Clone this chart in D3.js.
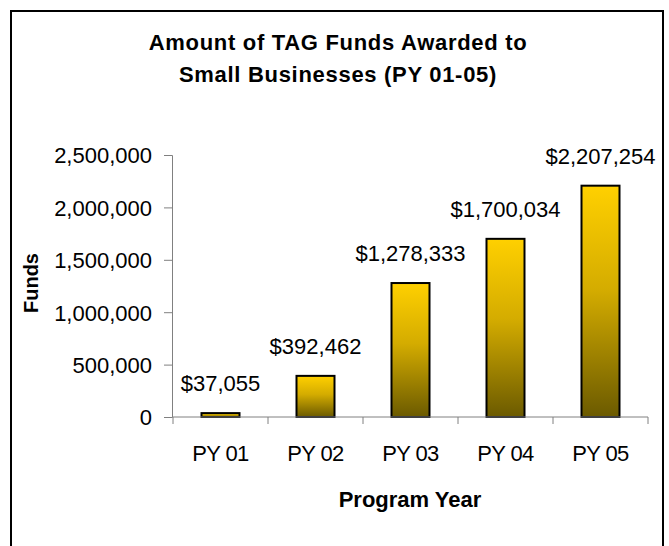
<!DOCTYPE html>
<html>
<head>
<meta charset="utf-8">
<script src="https://cdn.jsdelivr.net/npm/d3@7"></script>
<style>
  body { margin: 0; background: #fff; }
  svg { display: block; font-family: Arial, "Liberation Sans", sans-serif; }
</style>
</head>
<body>
<svg id="chart" width="669" height="546"></svg>
<script>
// chart data
const years = ['PY 01', 'PY 02', 'PY 03', 'PY 04', 'PY 05'];
const funds = [37055, 392462, 1278333, 1700034, 2207254];
const yTicks = [0, 500000, 1000000, 1500000, 2000000, 2500000];
const titleLines = ['Amount of TAG Funds Awarded to', 'Small Businesses (PY 01-05)'];

const svg = d3.select('#chart');

// outer frame
svg.append('rect')
    .attr('x', 11).attr('y', 11)
    .attr('width', 652).attr('height', 560)
    .attr('fill', 'none')
    .attr('stroke', '#000')
    .attr('stroke-width', 2);

// bar gradient
const grad = svg.append('defs').append('linearGradient')
    .attr('id', 'barGrad')
    .attr('x1', 0).attr('y1', 0).attr('x2', 0).attr('y2', 1);
grad.append('stop').attr('offset', '0%').attr('stop-color', '#FFD000');
grad.append('stop').attr('offset', '45%').attr('stop-color', '#D4AC00');
grad.append('stop').attr('offset', '100%').attr('stop-color', '#6B5A00');

const x = d3.scaleBand()
    .domain(years)
    .range([173, 648])
    .paddingInner(0.6)
    .paddingOuter(0.3);

const y = d3.scaleLinear()
    .domain([0, 2500000])
    .range([417, 155]);

// title
svg.append('g').selectAll('text')
    .data(titleLines)
    .enter()
    .append('text')
    .attr('x', 338)
    .attr('y', (d, i) => 50 + i * 32)
    .attr('text-anchor', 'middle')
    .attr('font-size', 22)
    .attr('font-weight', 'bold')
    .attr('letter-spacing', 0.7)
    .text(d => d);

// y axis
const yAxis = svg.append('g')
    .attr('transform', 'translate(172,0)')
    .call(d3.axisLeft(y)
        .tickValues(yTicks)
        .tickSize(8)
        .tickPadding(12)
        .tickFormat(d3.format(',')));
yAxis.select('.domain').attr('stroke', '#808080');
yAxis.selectAll('.tick line').attr('stroke', '#808080');
yAxis.selectAll('.tick text')
    .attr('font-size', 22)
    .attr('font-family', 'Arial, "Liberation Sans", sans-serif')
    .attr('fill', '#000')
    .attr('dy', '0.36em');

// bars
svg.append('g').selectAll('rect')
    .data(funds)
    .enter()
    .append('rect')
    .attr('x', (d, i) => x(years[i]))
    .attr('y', d => y(d))
    .attr('width', x.bandwidth())
    .attr('height', d => y(0) - y(d))
    .attr('fill', 'url(#barGrad)')
    .attr('stroke', '#000')
    .attr('stroke-width', 2);

// x axis (ticks between categories)
const xAxis = svg.append('g')
    .attr('transform', `translate(0,${y(0)})`);
xAxis.append('line')
    .attr('x1', x.range()[0]).attr('x2', x.range()[1])
    .attr('stroke', '#808080');
const edges = years.map(d => x(d) - x.step() * x.paddingOuter()).concat([x.range()[1]]);
xAxis.selectAll('.xtick')
    .data(edges)
    .enter()
    .append('line')
    .attr('x1', d => d).attr('x2', d => d)
    .attr('y1', 0).attr('y2', 7)
    .attr('stroke', '#808080');
xAxis.selectAll('text')
    .data(years)
    .enter()
    .append('text')
    .attr('x', d => x(d) + x.bandwidth() / 2)
    .attr('y', 44)
    .attr('text-anchor', 'middle')
    .attr('font-size', 22)
    .attr('letter-spacing', -0.6)
    .text(d => d);

// value labels
svg.append('g').selectAll('text')
    .data(funds)
    .enter()
    .append('text')
    .attr('x', (d, i) => x(years[i]) + x.bandwidth() / 2)
    .attr('y', d => y(d) - 22)
    .attr('text-anchor', 'middle')
    .attr('font-size', 22)
    .text(d => '$' + d3.format(',')(d));

// axis titles
svg.append('text')
    .attr('transform', 'translate(38,283) rotate(-90)')
    .attr('text-anchor', 'middle')
    .attr('font-size', 20)
    .attr('font-weight', 'bold')
    .text('Funds');

svg.append('text')
    .attr('x', 410)
    .attr('y', 507)
    .attr('text-anchor', 'middle')
    .attr('font-size', 22)
    .attr('font-weight', 'bold')
    .text('Program Year');
</script>
</body>
</html>
